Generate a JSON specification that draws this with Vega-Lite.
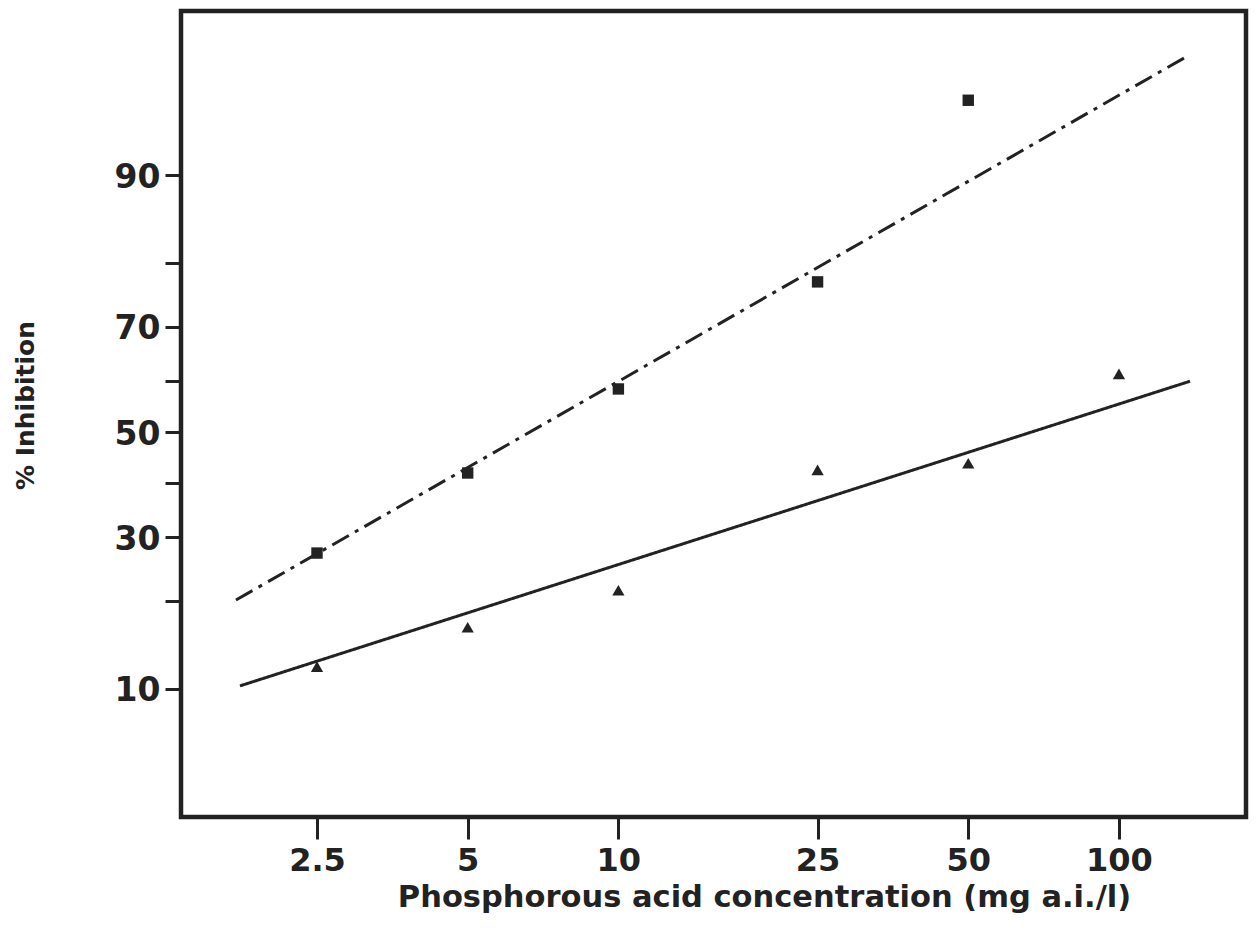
{
  "$schema": "https://vega.github.io/schema/vega-lite/v6.json",
  "autosize": {"type": "none"},
  "width": 1065,
  "height": 806,
  "padding": {"left": 181, "top": 11, "right": 13, "bottom": 110},
  "background": "white",
  "config": {
    "view": {"stroke": "#222222", "strokeWidth": 4.5},
    "font": "DejaVu Sans",
    "axis": {
      "domain": false,
      "grid": false,
      "tickColor": "#222222",
      "tickWidth": 3,
      "labelColor": "#222222",
      "titleColor": "#222222",
      "labelFont": "DejaVu Sans",
      "titleFont": "DejaVu Sans",
      "labelFontWeight": "bold",
      "titleFontWeight": "bold"
    }
  },
  "data": {
    "values": [
      {"kind": "obs", "series": "A", "conc": 2.5, "pct": 27.3},
      {"kind": "obs", "series": "A", "conc": 5, "pct": 41.9},
      {"kind": "obs", "series": "A", "conc": 10, "pct": 58.5},
      {"kind": "obs", "series": "A", "conc": 25, "pct": 77.3},
      {"kind": "obs", "series": "A", "conc": 50, "pct": 95.1},
      {"kind": "obs", "series": "B", "conc": 2.5, "pct": 12.1},
      {"kind": "obs", "series": "B", "conc": 5, "pct": 16.5},
      {"kind": "obs", "series": "B", "conc": 10, "pct": 21.5},
      {"kind": "obs", "series": "B", "conc": 25, "pct": 42.5},
      {"kind": "obs", "series": "B", "conc": 50, "pct": 43.8},
      {"kind": "obs", "series": "B", "conc": 100, "pct": 61.4},
      {"kind": "fit", "series": "A", "conc": 1.722, "pct": 20.1},
      {"kind": "fit", "series": "A", "conc": 136.1, "pct": 96.93},
      {"kind": "fit", "series": "B", "conc": 1.754, "pct": 10.27},
      {"kind": "fit", "series": "B", "conc": 138.7, "pct": 60.0}
    ]
  },
  "transform": [
    {"calculate": "quantileNormal(datum.pct / 100)", "as": "probit"}
  ],
  "encoding": {
    "x": {
      "field": "conc",
      "type": "quantitative",
      "scale": {"type": "log", "domain": [1.3374, 179.4], "nice": false},
      "axis": {
        "values": [2.5, 5, 10, 25, 50, 100],
        "format": "~g",
        "tickSize": 22,
        "labelFontSize": 32,
        "labelBaseline": "alphabetic",
        "labelPadding": 31,
        "labelFlush": false,
        "labelOverlap": false,
        "title": "Phosphorous acid concentration (mg a.i./l)",
        "titleFontSize": 30.5,
        "titleX": 583,
        "titleY": 89,
        "titleAlign": "center",
        "titleBaseline": "alphabetic",
        "titleAnchor": null
      }
    },
    "y": {
      "field": "probit",
      "type": "quantitative",
      "scale": {"domain": [-1.9202, 2.0998], "nice": false, "zero": false},
      "axis": {
        "values": [-1.2815515655446004, -0.8416212335729143, -0.5244005127080407, -0.2533471031357997, 0, 0.2533471031357997, 0.5244005127080407, 0.8416212335729143, 1.2815515655446004],
        "labelExpr": "(round(cumulativeNormal(datum.value) * 100) % 20 == 10) ? format(round(cumulativeNormal(datum.value) * 100), 'd') : ''",
        "tickSize": 16,
        "labelFontSize": 33,
        "labelPadding": 5,
        "labelBaseline": "alphabetic",
        "labelOffset": 12,
        "labelFlush": false,
        "labelOverlap": false,
        "title": "% Inhibition",
        "titleFontSize": 25,
        "titleAngle": 270,
        "titleX": -148,
        "titleY": 394,
        "titleAlign": "center",
        "titleBaseline": "alphabetic"
      }
    }
  },
  "layer": [
    {
      "transform": [{"filter": "datum.kind == 'fit'"}],
      "mark": {"type": "line", "color": "#222222", "strokeWidth": 3},
      "encoding": {
        "detail": {"field": "series"},
        "strokeDash": {
          "field": "series",
          "type": "nominal",
          "scale": {"domain": ["A", "B"], "range": [[19, 7, 4, 7], [1, 0]]},
          "legend": null
        }
      }
    },
    {
      "transform": [{"filter": "datum.kind == 'obs'"}],
      "mark": {"type": "point", "filled": true, "color": "#222222", "opacity": 1},
      "encoding": {
        "shape": {
          "field": "series",
          "type": "nominal",
          "scale": {"domain": ["A", "B"], "range": ["square", "triangle-up"]},
          "legend": null
        },
        "size": {
          "field": "series",
          "type": "nominal",
          "scale": {"domain": ["A", "B"], "range": [130, 150]},
          "legend": null
        }
      }
    }
  ]
}
